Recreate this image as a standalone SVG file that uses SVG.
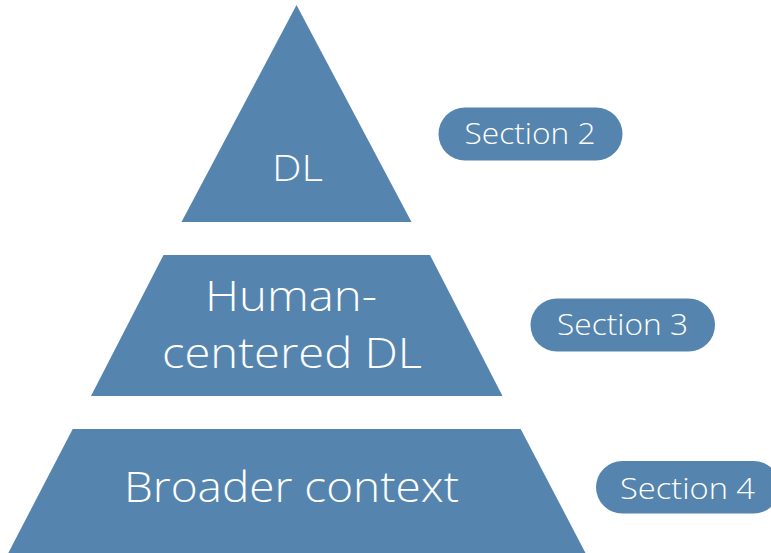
<svg xmlns="http://www.w3.org/2000/svg" width="771" height="553" viewBox="0 0 771 553">
  <style>
    .tier { fill: #5585ae; }
    .pill { fill: #5585ae; }
    .label { fill: #ffffff; font-family: "Open Sans", "Liberation Sans", sans-serif; font-weight: 300; text-anchor: middle; }
  </style>
  <rect width="771" height="553" fill="#ffffff"/>

  <!-- pyramid tiers -->
  <g id="tier-dl">
    <polygon class="tier" points="296.5,5 411.5,222 181.5,222"/>
    <text class="label" x="297.5" y="181" font-size="37" textLength="51" lengthAdjust="spacingAndGlyphs">DL</text>
  </g>
  <g id="tier-human-centered">
    <polygon class="tier" points="163.5,255 430,255 502.5,396 91,396"/>
    <text class="label" x="291" y="311" font-size="42" textLength="172" lengthAdjust="spacingAndGlyphs">Human-</text>
    <text class="label" x="292" y="368" font-size="42" textLength="260" lengthAdjust="spacingAndGlyphs">centered DL</text>
  </g>
  <g id="tier-broader">
    <polygon class="tier" points="72.7,429 520.7,429 585.5,553 8.3,553"/>
    <text class="label" x="291.5" y="502" font-size="42" textLength="335" lengthAdjust="spacingAndGlyphs">Broader context</text>
  </g>

  <!-- section tags -->
  <g id="section-2">
    <rect class="pill" x="438.5" y="107.5" width="184" height="53" rx="26.5"/>
    <text class="label" x="530" y="144" font-size="29" textLength="131" lengthAdjust="spacingAndGlyphs">Section 2</text>
  </g>
  <g id="section-3">
    <rect class="pill" x="530.5" y="298.5" width="184.5" height="53" rx="26.5"/>
    <text class="label" x="622.5" y="335" font-size="29" textLength="131" lengthAdjust="spacingAndGlyphs">Section 3</text>
  </g>
  <g id="section-4">
    <rect class="pill" x="596" y="461" width="184" height="52.5" rx="26.25"/>
    <text class="label" x="687.5" y="498.5" font-size="29" textLength="135" lengthAdjust="spacingAndGlyphs">Section 4</text>
  </g>

  <g id="connectors"></g>
</svg>
